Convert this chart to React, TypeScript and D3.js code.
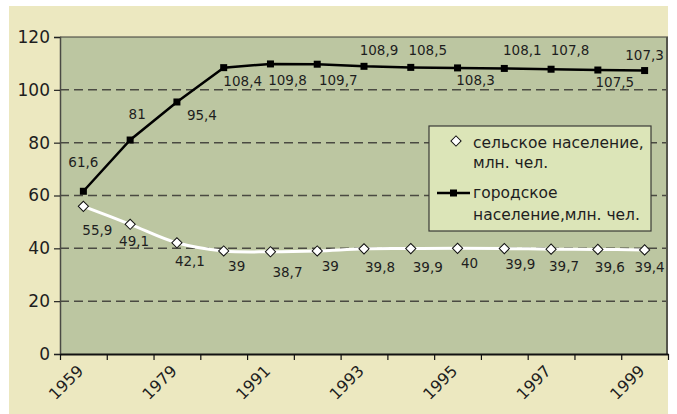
import { useEffect, useRef } from "react";
import * as d3 from "d3";

const years = ["1959", "1970", "1979", "1989", "1991", "1992", "1993", "1994", "1995", "1996", "1997", "1998", "1999"];
const urban = [61.6, 81, 95.4, 108.4, 109.8, 109.7, 108.9, 108.5, 108.3, 108.1, 107.8, 107.5, 107.3];
const rural = [55.9, 49.1, 42.1, 39, 38.7, 39, 39.8, 39.9, 40, 39.9, 39.7, 39.6, 39.4];
const yTicks = [0, 20, 40, 60, 80, 100, 120];

// where Excel put each data label, relative to its point
const urbanLabelOffsets: [number, number][] = [
  [0, -29], [7, -26], [25, 13], [19, 13], [17, 16], [21, 16], [15, -16],
  [17, -17], [18, 12], [18, -18], [19, -19], [17, 12], [0, -16],
];
const ruralLabelOffsets: [number, number][] = [
  [14, 24], [4, 17], [13, 18], [13, 15], [17, 20], [13, 15], [16, 18],
  [17, 18], [12, 15], [16, 15], [13, 17], [12, 18], [5, 17],
];

const colors = {
  outer: "#ece8c0",
  plot: "#bcc6a1",
  legend: "#dce5b8",
  grid: "#4a4a42",
  text: "#1e1e1e",
};

const fmt = (v: number) => String(v).replace(".", ",");

export default function App() {
  const svgRef = useRef<SVGSVGElement>(null);

  useEffect(() => {
    if (!svgRef.current) return;
    const svg = d3.select(svgRef.current);
    svg.selectAll("*").remove();

    const width = 677;
    const height = 414;
    const plot = { left: 60, top: 37, right: 668, bottom: 354 };
    const font = "DejaVu Sans, Verdana, sans-serif";

    svg.attr("width", width).attr("height", height).style("font-family", font);

    svg.append("rect")
      .attr("x", 9).attr("y", 6)
      .attr("width", plot.right - 9).attr("height", height - 6)
      .attr("fill", colors.outer);

    svg.append("rect")
      .attr("x", plot.left).attr("y", plot.top)
      .attr("width", plot.right - plot.left).attr("height", plot.bottom - plot.top)
      .attr("fill", colors.plot);

    const edge = d3.scaleLinear().domain([0, years.length]).range([plot.left, plot.right]);
    const cx = (i: number) => edge(i + 0.5);
    const y = d3.scaleLinear().domain([0, 120]).range([plot.bottom, plot.top]);

    // grid
    svg.append("g")
      .selectAll("line")
      .data(yTicks.filter((t) => t > 0 && t < 120))
      .join("line")
      .attr("x1", plot.left).attr("x2", plot.right)
      .attr("y1", (d) => y(d)).attr("y2", (d) => y(d))
      .attr("stroke", colors.grid)
      .attr("stroke-width", 1.5)
      .attr("stroke-dasharray", "9,5");

    // borders
    svg.append("line")
      .attr("x1", plot.left).attr("x2", plot.right)
      .attr("y1", plot.top).attr("y2", plot.top)
      .attr("stroke", "#3a3a36").attr("stroke-width", 1.2);
    svg.append("line")
      .attr("x1", plot.right - 1).attr("x2", plot.right - 1)
      .attr("y1", plot.top).attr("y2", plot.bottom)
      .attr("stroke", "#55554c").attr("stroke-width", 2);

    // y axis
    const yAxis = svg.append("g")
      .attr("transform", `translate(${plot.left},0)`)
      .call(d3.axisLeft(y).tickValues(yTicks).tickSize(6).tickPadding(4).tickFormat((d) => String(d)));
    yAxis.select("path.domain").attr("stroke", "#4a4a44").attr("stroke-width", 1.5);
    yAxis.selectAll("line").attr("stroke", "#222").attr("stroke-width", 1.2);
    yAxis.selectAll("text")
      .attr("fill", colors.text)
      .style("font-size", "17px")
      .style("font-family", font);

    // x axis
    const xAxis = svg.append("g")
      .attr("transform", `translate(0,${plot.bottom})`)
      .call(d3.axisBottom(edge).tickValues(d3.range(years.length + 1)).tickSize(6).tickSizeOuter(0).tickFormat(() => ""));
    xAxis.select("path.domain").attr("stroke", "#111").attr("stroke-width", 1.8);
    xAxis.selectAll("line").attr("stroke", "#111").attr("stroke-width", 1.2);

    svg.append("g")
      .selectAll("text")
      .data(years.map((yr, i) => ({ yr, i })).filter((d) => d.i % 2 === 0))
      .join("text")
      .attr("transform", (d) => `translate(${cx(d.i) - 3},${plot.bottom + 14}) rotate(-45)`)
      .attr("text-anchor", "end")
      .attr("dy", "0.35em")
      .attr("fill", colors.text)
      .style("font-size", "16px")
      .text((d) => d.yr);

    // rural line
    const ruralLine = d3.line<number>()
      .x((_, i) => cx(i))
      .y((d) => y(d))
      .curve(d3.curveCatmullRom.alpha(0.5));
    svg.append("path")
      .datum(rural)
      .attr("fill", "none")
      .attr("stroke", "#ffffff")
      .attr("stroke-width", 3)
      .attr("d", ruralLine);

    const diamondPath = d3.symbol().type(d3.symbolSquare).size(52)();
    svg.append("g")
      .selectAll("path")
      .data(rural)
      .join("path")
      .attr("transform", (d, i) => `translate(${cx(i)},${y(d)}) rotate(45)`)
      .attr("d", diamondPath)
      .attr("fill", "#fff")
      .attr("stroke", "#111")
      .attr("stroke-width", 1);

    // urban line
    const urbanLine = d3.line<number>()
      .x((_, i) => cx(i))
      .y((d) => y(d));
    svg.append("path")
      .datum(urban)
      .attr("fill", "none")
      .attr("stroke", "#000")
      .attr("stroke-width", 2.5)
      .attr("d", urbanLine);
    svg.append("g")
      .selectAll("rect")
      .data(urban)
      .join("rect")
      .attr("x", (_, i) => cx(i) - 3.5)
      .attr("y", (d) => y(d) - 3.5)
      .attr("width", 7).attr("height", 7)
      .attr("fill", "#000");

    // data labels
    const label = (data: number[], offs: [number, number][]) =>
      svg.append("g")
        .selectAll("text")
        .data(data)
        .join("text")
        .attr("x", (_, i) => cx(i) + offs[i][0])
        .attr("y", (d, i) => y(d) + offs[i][1])
        .attr("text-anchor", "middle")
        .attr("dominant-baseline", "central")
        .attr("fill", colors.text)
        .style("font-size", "13.5px")
        .text((d) => fmt(d));
    label(urban, urbanLabelOffsets);
    label(rural, ruralLabelOffsets);

    // legend
    const lg = svg.append("g").attr("transform", "translate(429,126)");
    lg.append("rect")
      .attr("width", 222).attr("height", 105)
      .attr("fill", colors.legend)
      .attr("stroke", "#3a3a36").attr("stroke-width", 1.2);
    lg.append("path")
      .attr("transform", "translate(27,15) rotate(45)")
      .attr("d", diamondPath)
      .attr("fill", "#fff").attr("stroke", "#111");
    lg.append("line")
      .attr("x1", 8).attr("x2", 41).attr("y1", 67).attr("y2", 67)
      .attr("stroke", "#000").attr("stroke-width", 2.5);
    lg.append("rect").attr("x", 21).attr("y", 63.5).attr("width", 7).attr("height", 7).attr("fill", "#000");
    const lines = [
      ["сельское население,", 22],
      ["млн. чел.", 42],
      ["городское", 72],
      ["население,млн. чел.", 94],
    ] as const;
    lg.selectAll("text.l")
      .data(lines)
      .join("text")
      .attr("x", 44)
      .attr("y", (d) => d[1])
      .attr("fill", colors.text)
      .style("font-size", "15.5px")
      .text((d) => d[0]);
  }, []);

  return (
    <div style={{ position: "absolute", left: 0, top: 0, width: 677, height: 414, background: "#fff" }}>
      <svg ref={svgRef} />
    </div>
  );
}
